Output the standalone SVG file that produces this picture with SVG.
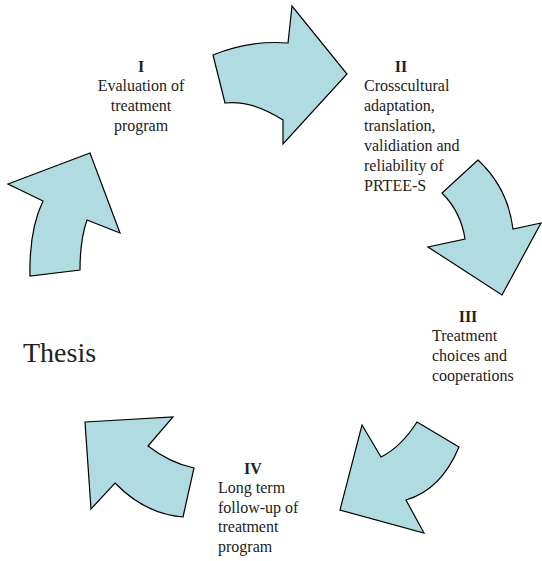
<svg xmlns="http://www.w3.org/2000/svg" width="542" height="561" viewBox="0 0 542 561">
<style>
.arr{fill:#b0dce1;stroke:#000;stroke-width:1.2;stroke-linejoin:miter}
.t{font-family:"Liberation Serif","Times New Roman",serif;font-size:16px;fill:#222}
.n{font-weight:bold}
.c{text-anchor:middle}
</style>
<rect width="542" height="561" fill="#fff"/>
<g id="connectors">
<path class="arr" d="M213,55 Q250,40 288,43 L292,6 L347,74 L283,144 L283,120 Q252,100 225,103 Z"/>
<path class="arr" d="M478,160 L442,193 Q461,212 465,239 L428,247 L502,295 L541,223 L513,229 Q508,188 478,160 Z"/>
<path class="arr" d="M417,422 L459,447 Q441,490 406,500 L424,533 L340,510 L362,425 L381,457 Q401,447 417,422 Z"/>
<path class="arr" d="M85,422 L173,417 L148,446 Q170,463 194,468 L183,517 Q145,514 115,483 L91,509 Z"/>
<path class="arr" d="M30,276 Q29,230 43,201 L8,184 L90,153 L120,233 L87,220 Q80,240 80,270 Z"/>
</g>
<g id="node-I">
<text class="t n c" x="141" y="72">I</text>
<text class="t c" x="141" y="91">Evaluation of</text>
<text class="t c" x="141" y="111">treatment</text>
<text class="t c" x="141" y="131">program</text>
</g>
<g id="node-II">
<text class="t n c" x="401" y="72">II</text>
<text class="t" x="364" y="91">Crosscultural</text>
<text class="t" x="364" y="111">adaptation,</text>
<text class="t" x="364" y="131">translation,</text>
<text class="t" x="364" y="151">validiation and</text>
<text class="t" x="364" y="171">reliability of</text>
<text class="t" x="364" y="191">PRTEE-S</text>
</g>
<g id="node-III">
<text class="t n c" x="468" y="322">III</text>
<text class="t" x="432" y="341">Treatment</text>
<text class="t" x="432" y="361">choices and</text>
<text class="t" x="432" y="381">cooperations</text>
</g>
<g id="node-IV">
<text class="t n c" x="253" y="474">IV</text>
<text class="t" x="218" y="493">Long term</text>
<text class="t" x="218" y="513">follow-up of</text>
<text class="t" x="218" y="532">treatment</text>
<text class="t" x="218" y="552">program</text>
</g>
<g id="thesis">
<text class="t" x="23" y="362" style="font-size:28px">Thesis</text>
</g>
</svg>
